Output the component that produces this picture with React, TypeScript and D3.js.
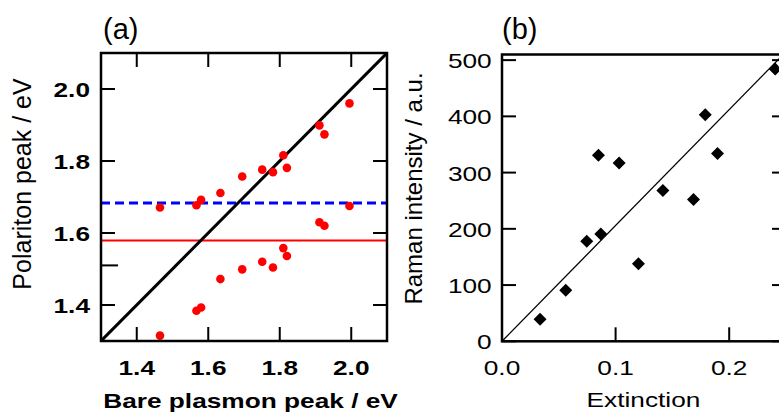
import React from "react";
import * as d3 from "d3";

// Panel (a) data
const plasmonPeak = [1.465, 1.567, 1.58, 1.634, 1.695, 1.751, 1.781, 1.81, 1.82, 1.911, 1.925, 1.995];
const upperPolariton = [1.671, 1.677, 1.692, 1.711, 1.757, 1.776, 1.769, 1.816, 1.781, 1.899, 1.874, 1.96];
const lowerPolariton = [1.315, 1.384, 1.393, 1.472, 1.499, 1.52, 1.504, 1.558, 1.536, 1.63, 1.62, 1.675];
const moleculeLevel = 1.683; // blue dashed
const redLevel = 1.579; // red solid
const aTicks = [1.4, 1.6, 1.8, 2.0];
const aMinorY = [1.51];

// Panel (b) data
const extinction = [0.0335, 0.0561, 0.0746, 0.087, 0.0849, 0.1031, 0.1201, 0.1416, 0.1686, 0.1789, 0.1897, 0.2405];
const raman = [39, 91, 178, 191, 331, 317, 138, 268, 252, 403, 334, 484];
const fitSlope = 2060;
const bXTicks = [0.0, 0.1, 0.2];
const bYTicks = [0, 100, 200, 300, 400, 500];

const FONT = "'Liberation Sans', Arial, sans-serif";
const SX = 1.25;

function HText({ x, y, anchor = "middle", size = 21, weight = "normal", children }: any) {
  return (
    <text
      transform={`translate(${x},${y}) scale(${SX},1)`}
      textAnchor={anchor}
      fontSize={size}
      fontWeight={weight}
      fontFamily={FONT}
      fill="#000"
    >
      {children}
    </text>
  );
}

export default function App() {
  // Panel a scales
  const aL = 101, aR = 387, aT = 53, aB = 341;
  const ax = d3.scaleLinear().domain([1.3, 2.1]).range([aL, aR]);
  const ay = d3.scaleLinear().domain([1.3, 2.1]).range([aB, aT]);

  // Panel b scales
  const bL = 502, bR = 786, bT = 54.5, bB = 341.3;
  const bx = d3.scaleLinear().domain([0, 0.25]).range([bL, bR]);
  const by = d3.scaleLinear().domain([0, 510]).range([bB, bT]);

  const tl = 14;
  const diamond = (cx: number, cy: number, r = 6.5) =>
    `M${cx},${cy - r}L${cx + r},${cy}L${cx},${cy + r}L${cx - r},${cy}Z`;

  const fitLine = d3.line<number>().x((d) => bx(d)).y((d) => by(fitSlope * d));

  return (
    <svg
      width={779}
      height={416}
      style={{ position: "absolute", left: 0, top: 0, background: "#fff" }}
    >
      <rect x={0} y={0} width={779} height={416} fill="#fff" />
      <defs>
        <clipPath id="clipA">
          <rect x={aL} y={aT} width={aR - aL} height={aB - aT} />
        </clipPath>
        <clipPath id="clipB">
          <rect x={bL} y={bT} width={bR - bL} height={bB - bT} />
        </clipPath>
      </defs>

      {/* ---------- Panel (a) ---------- */}
      <text x={103} y={39} fontSize={29} fontFamily={FONT}>(a)</text>
      <g clipPath="url(#clipA)">
        <line x1={aL} x2={aR} y1={ay(redLevel)} y2={ay(redLevel)} stroke="#ff0000" strokeWidth={2} />
        <line
          x1={aL}
          x2={aR}
          y1={ay(moleculeLevel)}
          y2={ay(moleculeLevel)}
          stroke="#0000ff"
          strokeWidth={3}
          strokeDasharray="9,5"
        />
        <line x1={ax(1.3)} y1={ay(1.3)} x2={ax(2.1)} y2={ay(2.1)} stroke="#000" strokeWidth={3} />
        {plasmonPeak.map((p, i) => (
          <circle key={"u" + i} cx={ax(p)} cy={ay(upperPolariton[i])} r={4.3} fill="#ff0000" />
        ))}
        {plasmonPeak.map((p, i) => (
          <circle key={"l" + i} cx={ax(p)} cy={ay(lowerPolariton[i])} r={4.3} fill="#ff0000" />
        ))}
      </g>
      <rect x={aL} y={aT} width={aR - aL} height={aB - aT} fill="none" stroke="#000" strokeWidth={2.5} />
      {aTicks.map((t) => (
        <g key={"at" + t}>
          <line x1={ax(t)} x2={ax(t)} y1={aB} y2={aB - tl} stroke="#000" strokeWidth={2} />
          <line x1={ax(t)} x2={ax(t)} y1={aT} y2={aT + tl} stroke="#000" strokeWidth={2} />
          <line x1={aL} x2={aL + tl} y1={ay(t)} y2={ay(t)} stroke="#000" strokeWidth={2} />
          <line x1={aR} x2={aR - tl} y1={ay(t)} y2={ay(t)} stroke="#000" strokeWidth={2} />
          <HText x={ax(t)} y={375} weight="bold">{t.toFixed(1)}</HText>
          <HText x={90} y={ay(t) + 8} anchor="end" weight="bold">{t.toFixed(1)}</HText>
        </g>
      ))}
      {aMinorY.map((t) => (
        <line key={"am" + t} x1={aL} x2={aL + 17} y1={ay(t)} y2={ay(t)} stroke="#000" strokeWidth={2} />
      ))}
      <HText x={250.5} y={408} weight="bold">Bare plasmon peak / eV</HText>
      <text
        transform={`translate(31,184) rotate(-90)`}
        textAnchor="middle"
        fontSize={25}
        fontFamily={FONT}
      >
        Polariton peak / eV
      </text>

      {/* ---------- Panel (b) ---------- */}
      <text x={502} y={39} fontSize={29} fontFamily={FONT}>(b)</text>
      <g clipPath="url(#clipB)">
        <path d={fitLine([0, 0.25]) || ""} stroke="#000" strokeWidth={1.3} fill="none" />
      </g>
      {extinction.map((e, i) => (
        <path key={"d" + i} d={diamond(bx(e), by(raman[i]))} fill="#000" />
      ))}
      <rect x={bL} y={bT} width={bR - bL} height={bB - bT} fill="none" stroke="#000" strokeWidth={2.5} />
      {bXTicks.map((t) => (
        <g key={"bx" + t}>
          <line x1={bx(t)} x2={bx(t)} y1={bB} y2={bB - tl} stroke="#000" strokeWidth={2} />
          <HText x={bx(t)} y={375}>{t.toFixed(1)}</HText>
        </g>
      ))}
      {bYTicks.map((t) => (
        <g key={"by" + t}>
          <line x1={bL} x2={bL + tl} y1={by(t)} y2={by(t)} stroke="#000" strokeWidth={2} />
          <line x1={bR} x2={bR - tl} y1={by(t)} y2={by(t)} stroke="#000" strokeWidth={2} />
          <HText x={491.7} y={by(t) + 8} anchor="end">{String(t)}</HText>
        </g>
      ))}
      <HText x={643.5} y={407}>Extinction</HText>
      <text
        transform={`translate(422,188.5) rotate(-90)`}
        textAnchor="middle"
        fontSize={24}
        fontFamily={FONT}
      >
        Raman intensity / a.u.
      </text>
    </svg>
  );
}
